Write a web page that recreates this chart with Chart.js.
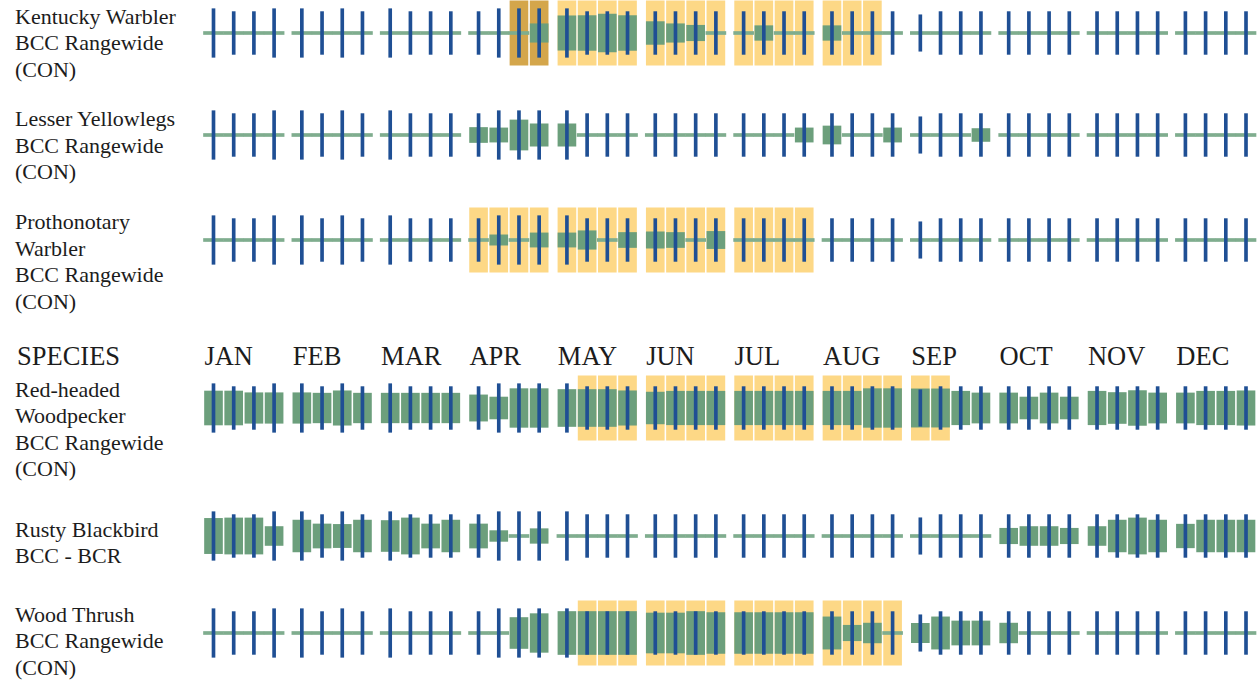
<!DOCTYPE html>
<html><head><meta charset="utf-8">
<script src="https://cdn.jsdelivr.net/npm/chart.js@4.4.0/dist/chart.umd.min.js"></script>
<style>
html,body{margin:0;padding:0;background:#fff;width:1257px;height:680px;overflow:hidden;position:relative;font-family:'Liberation Serif','Times New Roman',serif;color:#1c1c1c}
.lbl{position:absolute;left:15px;font-size:22px;line-height:26.5px;white-space:nowrap}
.hdr{position:absolute;font-size:26.5px;line-height:26px;white-space:nowrap}
canvas.row{position:absolute;left:200px}
</style></head><body>
<script>
// ---------- DATA ----------
const months = ['JAN','FEB','MAR','APR','MAY','JUN','JUL','AUG','SEP','OCT','NOV','DEC'];
const headerLabel = 'SPECIES';

const kentuckyLabel = ['Kentucky Warbler','BCC Rangewide','(CON)'];
const yellowlegsLabel = ['Lesser Yellowlegs','BCC Rangewide','(CON)'];
const prothonotaryLabel = ['Prothonotary','Warbler','BCC Rangewide','(CON)'];
const woodpeckerLabel = ['Red-headed','Woodpecker','BCC Rangewide','(CON)'];
const blackbirdLabel = ['Rusty Blackbird','BCC - BCR'];
const thrushLabel = ['Wood Thrush','BCC Rangewide','(CON)'];

// survey effort (relative length of the blue line), 4 weeks per month
const surveyEffort = [
  1,0.88,0.88,1,  1,0.88,1,0.88,  1,0.88,0.88,0.88,  0.88,1,1,1,
  1,0.88,0.88,0.88,  0.88,0.88,0.88,0.88,  0.88,0.88,0.88,0.88,  0.88,0.88,0.88,0.88,
  0.75,0.88,0.88,0.88,  0.88,0.88,0.88,0.88,  0.88,0.88,0.88,0.88,  0.88,0.88,0.88,0.88
];

// probability of presence (relative bar half-height)
const kentuckyProb = [
  0,0,0,0, 0,0,0,0, 0,0,0,0, 0,0,0,0.43,
  0.8,0.81,0.88,0.81, 0.53,0.43,0.36,0, 0,0.34,0,0, 0.34,0,0,0,
  0,0,0,0, 0,0,0,0, 0,0,0,0, 0,0,0,0
];
const yellowlegsProb = [
  0,0,0,0, 0,0,0,0, 0,0,0,0, 0.35,0.33,0.7,0.52,
  0.52,0,0,0, 0,0,0,0, 0,0,0,0.33, 0.42,0,0,0.33,
  0,0,0,0.3, 0,0,0,0, 0,0,0,0, 0,0,0,0
];
const prothonotaryProb = [
  0,0,0,0, 0,0,0,0, 0,0,0,0, 0,0.24,0,0.33,
  0.33,0.43,0,0.35, 0.38,0.35,0,0.4, 0,0,0,0, 0,0,0,0,
  0,0,0,0, 0,0,0,0, 0,0,0,0, 0,0,0,0
];
const woodpeckerProb = [
  0.79,0.79,0.71,0.71, 0.71,0.69,0.8,0.69, 0.69,0.69,0.69,0.69, 0.61,0.51,0.9,0.9,
  0.86,0.86,0.86,0.8, 0.74,0.78,0.78,0.78, 0.78,0.78,0.78,0.78, 0.78,0.78,0.9,0.9,
  0.89,0.89,0.78,0.7, 0.7,0.51,0.7,0.51, 0.78,0.72,0.81,0.7, 0.7,0.78,0.78,0.8
];
const blackbirdProb = [
  0.82,0.84,0.84,0.44, 0.74,0.56,0.54,0.74, 0.72,0.84,0.56,0.74, 0.56,0.25,0,0.34,
  0,0,0,0, 0,0,0,0, 0,0,0,0, 0,0,0,0,
  0,0,0,0, 0.36,0.44,0.44,0.36, 0.44,0.74,0.84,0.74, 0.55,0.74,0.74,0.74
];
const thrushProb = [
  0,0,0,0, 0,0,0,0, 0,0,0,0, 0,0,0.72,0.9,
  1,1,1,1, 0.93,0.93,1,0.95, 0.95,0.95,0.95,0.95, 0.75,0.36,0.46,0,
  0.45,0.75,0.56,0.56, 0.46,0,0,0, 0,0,0,0, 0,0,0,0
];

// breeding season (1 = breeding, 2 = breeding, darker shade as shown)
const kentuckyBreeding = [
  0,0,0,0, 0,0,0,0, 0,0,0,0, 0,0,2,2,
  1,1,1,1, 1,1,1,1, 1,1,1,1, 1,1,1,0,
  0,0,0,0, 0,0,0,0, 0,0,0,0, 0,0,0,0
];
const yellowlegsBreeding = new Array(48).fill(0);
const prothonotaryBreeding = [
  0,0,0,0, 0,0,0,0, 0,0,0,0, 1,1,1,1,
  1,1,1,1, 1,1,1,1, 1,1,1,1, 0,0,0,0,
  0,0,0,0, 0,0,0,0, 0,0,0,0, 0,0,0,0
];
const woodpeckerBreeding = [
  0,0,0,0, 0,0,0,0, 0,0,0,0, 0,0,0,0,
  0,1,1,1, 1,1,1,1, 1,1,1,1, 1,1,1,1,
  1,1,0,0, 0,0,0,0, 0,0,0,0, 0,0,0,0
];
const blackbirdBreeding = new Array(48).fill(0);
const thrushBreeding = [
  0,0,0,0, 0,0,0,0, 0,0,0,0, 0,0,0,0,
  0,1,1,1, 1,1,1,1, 1,1,1,1, 1,1,1,1,
  0,0,0,0, 0,0,0,0, 0,0,0,0, 0,0,0,0
];

// ---------- LAYOUT / STYLE ----------
const rows = [
  {label: kentuckyLabel, prob: kentuckyProb, breeding: kentuckyBreeding, center: 33, labelTop: 3.5},
  {label: yellowlegsLabel, prob: yellowlegsProb, breeding: yellowlegsBreeding, center: 135, labelTop: 106},
  {label: prothonotaryLabel, prob: prothonotaryProb, breeding: prothonotaryBreeding, center: 240, labelTop: 209},
  {label: woodpeckerLabel, prob: woodpeckerProb, breeding: woodpeckerBreeding, center: 408, labelTop: 376.5, header: true},
  {label: blackbirdLabel, prob: blackbirdProb, breeding: blackbirdBreeding, center: 536, labelTop: 516.5},
  {label: thrushLabel, prob: thrushProb, breeding: thrushBreeding, center: 633, labelTop: 601.5}
];
const HEADER_TOP = 343;
const CANVAS_W = 1057, CANVAS_H = 68;
const MONTH_STEP = 4.374;          // in week units (includes gap between months)
const UNIT_PX = 20.2;
const X_MIN = -13.5 / UNIT_PX;
const X_MAX = X_MIN + CANVAS_W / UNIT_PX;
const Y_EXT = (CANVAS_H / 2) / 21.5;
const BREED_H = 1.5, EFFORT_K = 1.13, BASE_H = 0.07;
const C_YELLOW = '#fdd886', C_YELLOW_DARK = '#d4a64b', C_GREEN = '#6c9f7c', C_BASE = '#7fad8e', C_BLUE = '#1f4f94';

const weekX = i => Math.floor(i / 4) * MONTH_STEP + (i % 4);

function addLabel(lines, top, cls, left) {
  const d = document.createElement('div');
  d.className = cls;
  d.style.top = top + 'px';
  if (left !== undefined) d.style.left = left + 'px';
  lines.forEach((t, k) => { if (k) d.appendChild(document.createElement('br')); d.appendChild(document.createTextNode(t)); });
  document.body.appendChild(d);
  return d;
}

let headerChart = null;
rows.forEach(r => {
  addLabel(r.label, r.labelTop, 'lbl');
  const cv = document.createElement('canvas');
  cv.className = 'row';
  cv.width = CANVAS_W; cv.height = CANVAS_H;
  cv.style.width = CANVAS_W + 'px'; cv.style.height = CANVAS_H + 'px';
  cv.style.top = (r.center - CANVAS_H / 2) + 'px';
  document.body.appendChild(cv);

  const breedData = [], baseData = [], probData = [], effortData = [];
  for (let i = 0; i < 48; i++) {
    const x = weekX(i);
    if (r.breeding[i]) breedData.push({x, y: [-BREED_H, BREED_H], shade: r.breeding[i]});
    if (r.prob[i] > 0) probData.push({x, y: [-r.prob[i], r.prob[i]]});
    else baseData.push({x, y: [-BASE_H, BASE_H]});
    const e = surveyEffort[i] * EFFORT_K;
    effortData.push({x, y: [-e, e]});
  }
  const ch = new Chart(cv, {
    type: 'bar',
    data: {datasets: [
      {data: breedData, order: 4, barThickness: 18, backgroundColor: c => (c.raw && c.raw.shade === 2) ? C_YELLOW_DARK : C_YELLOW},
      {data: baseData, order: 3, barThickness: 20, backgroundColor: C_BASE},
      {data: probData, order: 2, barThickness: 18, backgroundColor: C_GREEN},
      {data: effortData, order: 1, barThickness: 3, backgroundColor: C_BLUE}
    ]},
    options: {
      responsive: false, animation: false, events: [],
      layout: {padding: 0},
      plugins: {legend: {display: false}, tooltip: {enabled: false}},
      datasets: {bar: {grouped: false, borderWidth: 0}},
      scales: {
        x: {type: 'linear', display: false, offset: false, bounds: 'data', min: X_MIN, max: X_MAX, grid: {offset: false}},
        y: {type: 'linear', display: false, offset: false, min: -Y_EXT, max: Y_EXT}
      }
    }
  });
  if (r.header) headerChart = ch;
});

// header row: SPECIES + month names placed with the chart's x scale
addLabel([headerLabel], HEADER_TOP, 'hdr', 17);
months.forEach((m, k) => {
  const px = 200 + headerChart.scales.x.getPixelForValue(k * MONTH_STEP - 0.45);
  addLabel([m], HEADER_TOP, 'hdr', px);
});
</script>
</body></html>
